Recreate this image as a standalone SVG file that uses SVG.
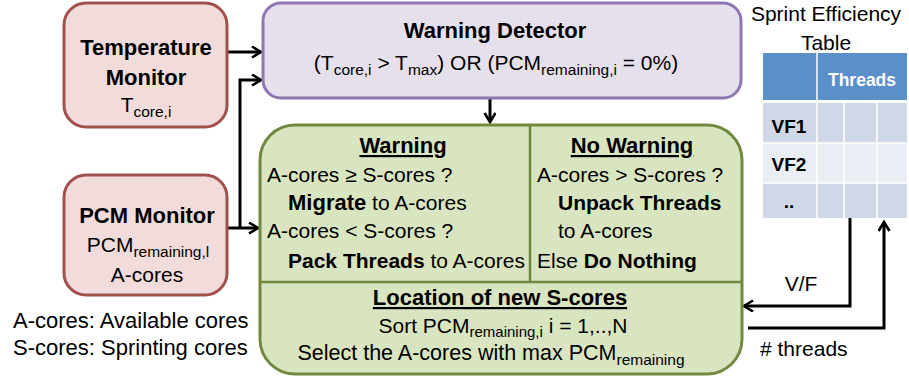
<svg xmlns="http://www.w3.org/2000/svg" width="909" height="379" viewBox="0 0 909 379">
<defs>
<marker id="arr" markerUnits="userSpaceOnUse" markerWidth="14" markerHeight="14" refX="10" refY="6" orient="auto">
<path d="M1,0.5 L10,6 L1,11.5" fill="none" stroke="#000" stroke-width="2.6"/>
</marker>
<style>
text{font-family:"Liberation Sans",Arial,sans-serif;fill:#000;font-size:21px}
.b{font-weight:bold;font-size:22px}
.m{text-anchor:middle}
.u{text-decoration:underline}
.s{font-size:15.5px}
.mon{fill:#F2DCDB;stroke:#A0504D;stroke-width:3}
.wd{fill:#E6E0EC;stroke:#8E77AE;stroke-width:3}
.gr{fill:#D9E5C1;stroke:#71893F;stroke-width:3}
.dv{stroke:#71893F;stroke-width:2.5}
.ln{fill:none;stroke:#000;stroke-width:3}
</style>
</defs>

<g id="connectors">
<path class="ln" d="M227,52 H261" marker-end="url(#arr)"/>
<path class="ln" d="M227,228 H258" marker-end="url(#arr)"/>
<path class="ln" d="M240,228 V80 H261" marker-end="url(#arr)"/>
<path class="ln" d="M490,98 V122" marker-end="url(#arr)"/>
<path class="ln" d="M850,218 V306 H744" marker-end="url(#arr)"/>
<path class="ln" d="M748,328 H884 V222" marker-end="url(#arr)"/>
</g>

<g id="temperature-monitor">
<rect class="mon" x="64" y="3" width="163" height="124" rx="22"/>
<text class="b m" x="146" y="55">Temperature</text>
<text class="b m" x="146" y="85">Monitor</text>
<text class="m" x="146" y="112">T<tspan class="s" dy="5">core,i</tspan></text>
</g>

<g id="pcm-monitor">
<rect class="mon" x="64" y="175" width="163" height="120" rx="22"/>
<text class="b m" x="147" y="223">PCM Monitor</text>
<text class="m" x="148" y="252">PCM<tspan class="s" dy="5">remaining,l</tspan></text>
<text class="m" x="147" y="282">A-cores</text>
</g>

<g id="warning-detector">
<rect class="wd" x="263" y="3" width="478" height="95" rx="18"/>
<text class="b m" x="495" y="38">Warning Detector</text>
<text class="m" x="496" y="70">(T<tspan class="s" dy="5">core,i</tspan><tspan dy="-5"> &gt; T</tspan><tspan class="s" dy="5">max</tspan><tspan dy="-5">) OR (PCM</tspan><tspan class="s" dy="5">remaining,i</tspan><tspan dy="-5"> = 0%)</tspan></text>
</g>

<g id="decision">
<rect class="gr" x="260" y="125" width="482" height="249" rx="35"/>
<line class="dv" x1="530" y1="125" x2="530" y2="282"/>
<line class="dv" x1="260" y1="282" x2="742" y2="282"/>
<text class="b m u" x="403" y="153">Warning</text>
<text x="267" y="182">A-cores ≥ S-cores ?</text>
<text x="288" y="210"><tspan font-weight="bold" font-size="22">Migrate</tspan> to A-cores</text>
<text x="267" y="238">A-cores &lt; S-cores ?</text>
<text x="288" y="268" font-size="20"><tspan font-weight="bold" font-size="21">Pack Threads</tspan> to A-cores</text>
<text class="b m u" x="632" y="153">No Warning</text>
<text x="537" y="182">A-cores &gt; S-cores ?</text>
<text class="b" x="558" y="210" font-size="21" style="font-size:21px">Unpack Threads</text>
<text x="558" y="238">to A-cores</text>
<text x="537" y="268">Else <tspan font-weight="bold" style="font-size:21px">Do Nothing</tspan></text>
<text class="b m u" x="500" y="305">Location of new S-cores</text>
<text class="m" x="503" y="333">Sort PCM<tspan style="font-size:15px" dy="4">remaining,i</tspan><tspan dy="-4"> i = 1,..,N</tspan></text>
<text class="m" x="491" y="360" style="font-size:21.5px">Select the A-cores with max PCM<tspan class="s" dy="5">remaining</tspan></text>
</g>

<g id="sprint-table">
<text class="m" x="826" y="21">Sprint Efficiency</text>
<text class="m" x="826" y="50">Table</text>
<rect x="763" y="53" width="144" height="47" fill="#5B8FCA"/>
<rect x="763" y="103" width="144" height="40" fill="#D0D8E8"/>
<rect x="763" y="143" width="144" height="40" fill="#E9EDF4"/>
<rect x="763" y="183" width="144" height="35" fill="#D0D8E8"/>
<g stroke="#fff" stroke-width="1.5">
<line x1="817" y1="53" x2="817" y2="218"/>
<line x1="844" y1="100" x2="844" y2="218"/>
<line x1="877" y1="100" x2="877" y2="218"/>
<line x1="763" y1="143" x2="907" y2="143"/>
<line x1="763" y1="183" x2="907" y2="183"/>
</g>
<line x1="763" y1="101.5" x2="907" y2="101.5" stroke="#fff" stroke-width="3"/>
<text class="b m" x="862" y="86" style="fill:#fff;font-size:17.5px">Threads</text>
<text class="b m" x="789" y="133" style="font-size:19px">VF1</text>
<text class="b m" x="789" y="171" style="font-size:19px">VF2</text>
<text class="b m" x="789" y="208" style="font-size:19px">..</text>
</g>

<g id="labels">
<text class="m" x="801" y="291">V/F</text>
<text x="760" y="356">#  threads</text>
<text x="13" y="328" style="font-size:22px">A-cores: Available cores</text>
<text x="13" y="355" style="font-size:22px">S-cores: Sprinting cores</text>
</g>
</svg>
